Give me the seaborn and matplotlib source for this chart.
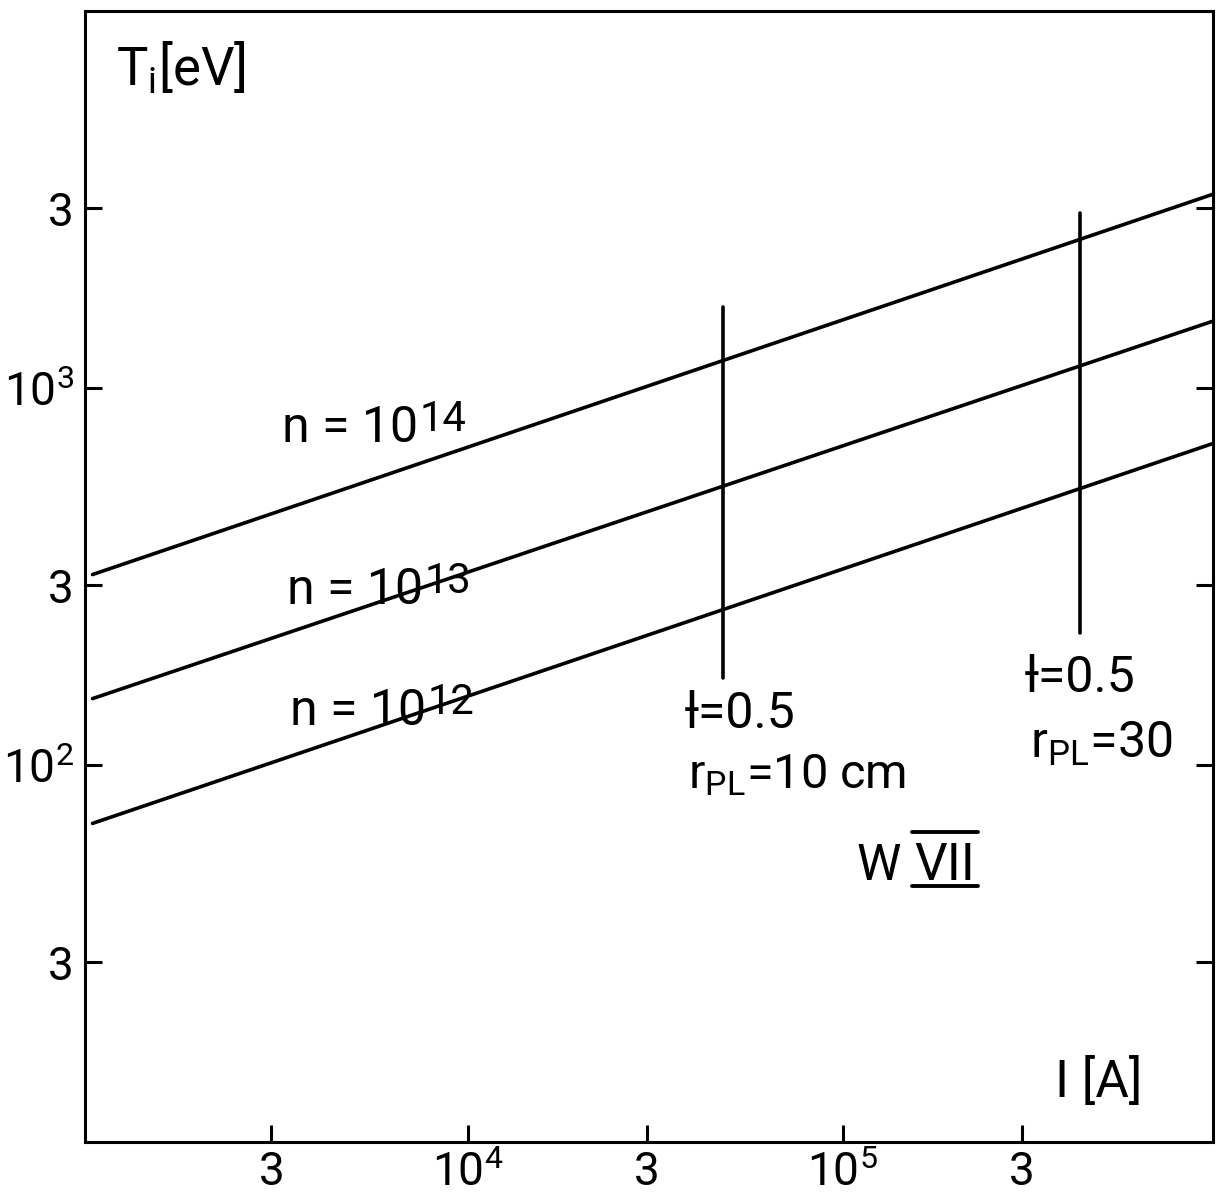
import matplotlib
matplotlib.use("Agg")
import matplotlib.pyplot as plt
import numpy as np
import pandas as pd
import seaborn as sns
from matplotlib.lines import Line2D

# Ion temperature vs. plasma current (W VII), T_i ~ I^(1/3)
current = [1e3, 1e6]
t_n14 = [320, 3300]
t_n13 = [150, 1520]
t_n12 = [70, 720]
density_exps = ["14", "13", "12"]

# operating ranges at iota = 0.5 for two plasma radii
bar_current = [4.8e4, 4.3e5]
bar_low = [170, 224]
bar_high = [1640, 2910]

x_ticks = [3e3, 1e4, 3e4, 1e5, 3e5]
x_ticklabels = ["3", "10$^{4}$", "3", "10$^{5}$", "3"]
y_ticks = [30, 100, 300, 1000, 3000]
y_ticklabels = ["3", "10$^{2}$", "3", "10$^{3}$", "3"]

sns.set_style("ticks")
FONT = ["Roboto", "DejaVu Sans"]
plt.rcParams["font.family"] = FONT
plt.rcParams["mathtext.fontset"] = "custom"
plt.rcParams["mathtext.rm"] = "Roboto"
plt.rcParams["mathtext.it"] = "Roboto"
plt.rcParams["mathtext.default"] = "rm"
plt.rcParams["text.color"] = "black"

W, H = 1218, 1198
fig = plt.figure(figsize=(W / 100, H / 100), dpi=100)
ax = fig.add_axes([85 / W, 1 - 1142 / H, (1213 - 85) / W, (1142 - 11) / H])

lines = pd.DataFrame({
    "current": current * 3,
    "temp": t_n14 + t_n13 + t_n12,
    "density": [density_exps[0]] * 2 + [density_exps[1]] * 2 + [density_exps[2]] * 2,
})
sns.lineplot(data=lines, x="current", y="temp", hue="density",
             palette=["black"] * 3, linewidth=2.6, legend=False, ax=ax)

bars = pd.DataFrame({
    "current": bar_current * 2,
    "temp": bar_low + bar_high,
    "case": [0, 1, 0, 1],
})
sns.lineplot(data=bars, x="current", y="temp", units="case", estimator=None,
             color="black", linewidth=2.6, ax=ax)

ax.set_xscale("log")
ax.set_yscale("log")
ax.set_xlim(955, 9.7e5)
ax.set_ylim(10, 1e4)
ax.set_xticks(x_ticks)
ax.set_xticklabels(x_ticklabels)
ax.set_yticks(y_ticks)
ax.set_yticklabels(y_ticklabels)
ax.minorticks_off()
ax.set_xlabel("")
ax.set_ylabel("")

for s in ax.spines.values():
    s.set_linewidth(2.2)
    s.set_color("black")
ax.tick_params(axis="both", which="major", direction="in", length=12,
               width=2.2, labelsize=33, colors="black")
ax.tick_params(axis="y", right=True, pad=8)
ax.tick_params(axis="x", pad=6)

renderer = fig.canvas.get_renderer()


def put(x, y, s, size=36, **kw):
    return fig.text(x / W, 1 - y / H, s, fontsize=size, va="baseline", ha="left",
                    family=FONT, color="black", **kw)


def put_power(x, y, base, exp):
    # base text with a large raised exponent right after it
    t = put(x, y, base)
    right = t.get_window_extent(renderer).x1
    fig.text((right + 1) / W, 1 - (y - 11) / H, exp, fontsize=30, va="baseline",
             ha="left", family=FONT, color="black")


put(116, 86, "T$_{i}$[eV]", size=38)
put_power(282, 442, "n = 10", density_exps[0])
put_power(287, 604, "n = 10", density_exps[1])
put_power(290, 725, "n = 10", density_exps[2])
put(685, 728, "ƚ=0.5")
put(688, 788, "r$_{PL}$=10 cm", size=35)
put(1025, 692, "ƚ=0.5")
put(1030, 758, "r$_{PL}$=30", size=36)
put(857, 880, "W")
fig.text(945 / W, 1 - 880 / H, "VII", fontsize=37, va="baseline", ha="center",
         family=FONT, color="black")
for yy in (832, 886):
    fig.add_artist(Line2D([912 / W, 978 / W], [1 - yy / H, 1 - yy / H],
                          transform=fig.transFigure, color="black", linewidth=2.8))
put(1055, 1097, "I [A]", size=37)

fig.savefig("out.png", dpi=100, facecolor="white")
